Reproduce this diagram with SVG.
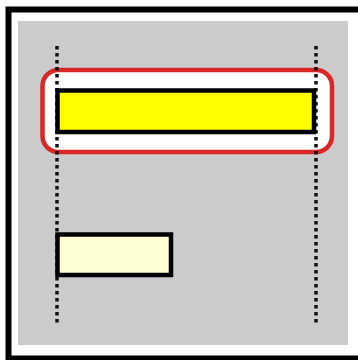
<svg xmlns="http://www.w3.org/2000/svg" width="358" height="360" viewBox="0 0 358 360">
  <style>
    .guide { stroke: #111; stroke-width: 3.5; stroke-dasharray: 3.5 3.5; fill: none; }
    .bar { stroke: #000; stroke-width: 4.5; }
  </style>
  <rect x="0" y="0" width="358" height="360" fill="#ffffff"/>
  <g id="frame">
    <rect x="8.5" y="9.5" width="380" height="349" fill="#ffffff" stroke="#000" stroke-width="6"/>
    <rect x="18" y="21" width="330" height="324" fill="#cbcbcb"/>
  </g>
  <g id="highlight">
    <rect x="42.5" y="70" width="289.5" height="82" rx="16" ry="16" fill="#ffffff" stroke="#d92626" stroke-width="4.5"/>
  </g>
  <g id="connectors">
    <line class="guide" x1="57" y1="46" x2="57" y2="326"/>
    <line class="guide" x1="316" y1="46" x2="316" y2="326"/>
  </g>
  <g id="bar-main">
    <rect class="bar" x="57.5" y="90.5" width="256.5" height="41.5" fill="#ffff00"/>
  </g>
  <g id="bar-secondary">
    <rect class="bar" x="57.5" y="234.5" width="113.5" height="40.5" fill="#ffffd4"/>
  </g>
</svg>
